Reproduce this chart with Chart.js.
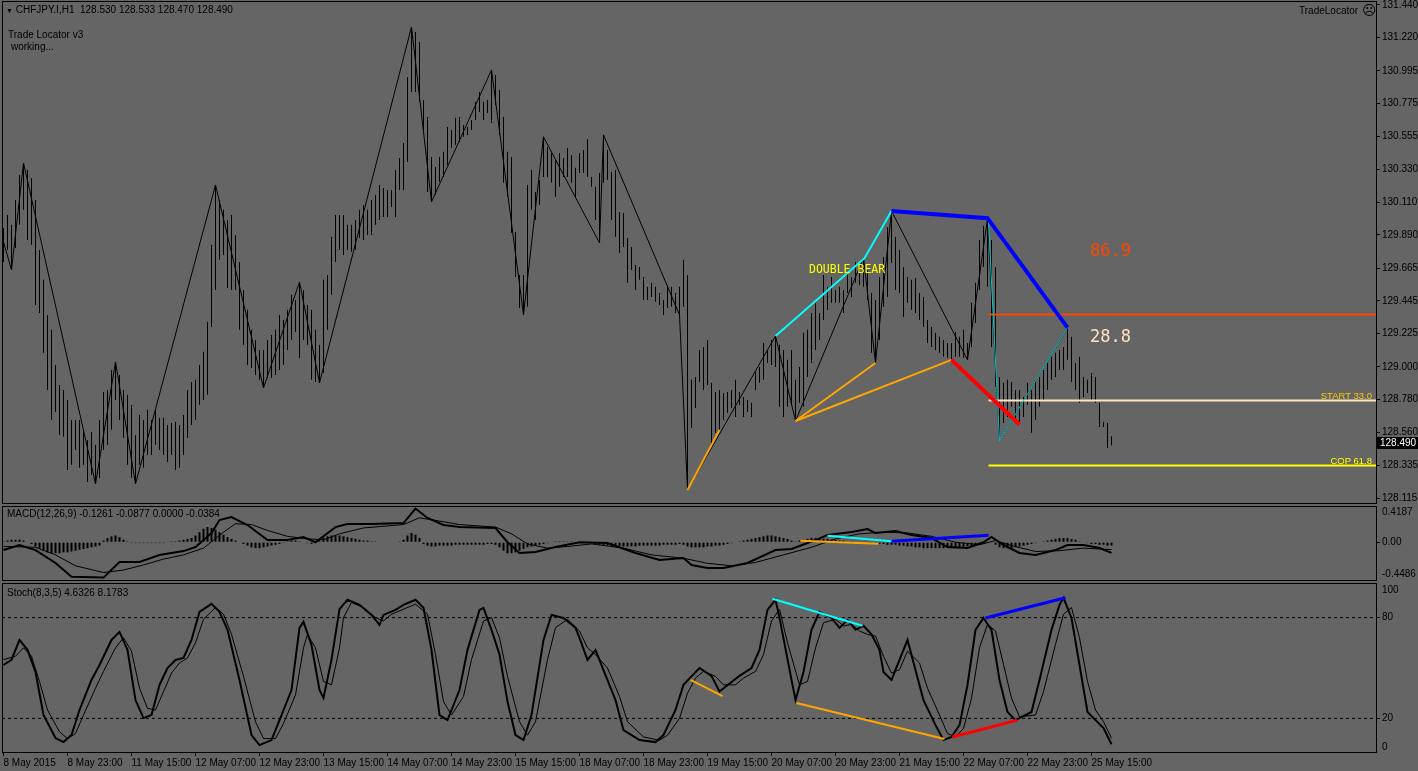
<!DOCTYPE html>
<html><head><meta charset="utf-8">
<script src="https://cdn.jsdelivr.net/npm/chart.js@4.4.1/dist/chart.umd.min.js"></script>
<style>
html,body{margin:0;padding:0;background:#656565;width:1418px;height:771px;overflow:hidden;position:relative;font-family:"Liberation Sans",Arial,sans-serif}
canvas{position:absolute;left:0;display:block}
.t{position:absolute;white-space:pre;color:#000;font-size:10px;line-height:12px}
.m{font-family:"DejaVu Sans Mono",monospace}
</style></head><body>
<canvas id="cp" width="1418" height="505" style="top:0"></canvas>
<canvas id="cm" width="1418" height="78" style="top:505px"></canvas>
<canvas id="cs" width="1418" height="188" style="top:583px"></canvas>

<div class="t" style="left:6px;top:4px"><span style="font-size:7px">▼</span> CHFJPY.I,H1  128.530 128.533 128.470 128.490</div>
<div class="t" style="left:8px;top:29px">Trade Locator v3</div>
<div class="t" style="left:11px;top:41px">working...</div>
<div class="t" style="left:1299px;top:5px">TradeLocator</div>
<div class="t" style="left:1362px;top:2px;font-size:14px;line-height:16px;font-family:'DejaVu Sans'">☹</div>
<div class="t m" style="left:809px;top:262px;font-size:11.5px;line-height:14px;color:#ffff00">DOUBLE BEAR</div>
<div class="t m" style="left:1090px;top:239px;font-size:17px;line-height:22px;color:#ff4500">86.9</div>
<div class="t m" style="left:1090px;top:325px;font-size:17px;line-height:22px;color:#ffe4c4">28.8</div>
<div class="t" style="right:46px;top:390px;font-size:9.5px;line-height:11px;color:#ffc800">START 33.0</div>
<div class="t" style="right:46px;top:455px;font-size:9.5px;line-height:11px;color:#ffff00">COP 61.8</div>
<div class="t" style="left:1377px;top:437px;width:38px;height:12px;background:#000;color:#fff;padding-left:3px">128.490</div>
<div class="t" style="left:7px;top:508px">MACD(12,26,9) -0.1261 -0.0877 0.0000 -0.0384</div>
<div class="t" style="left:7px;top:587px">Stoch(8,3,5) 4.6326 8.1783</div>

<script>
// ---------------- DATA ----------------
const PRICE_TICKS = [131.440,131.220,130.995,130.775,130.555,130.330,130.110,129.890,129.665,129.445,129.225,129.000,128.780,128.560,128.335,128.115];
const TIME_TICK_BARS = [0,16,32,48,64,80,96,112,128,144,160,176,192,208,224,240,256,272];
const TIME_LABELS = ["8 May 2015","8 May 23:00","11 May 15:00","12 May 07:00","12 May 23:00","13 May 15:00","14 May 07:00","14 May 23:00","15 May 15:00","18 May 07:00","18 May 23:00","19 May 15:00","20 May 07:00","20 May 23:00","21 May 15:00","22 May 07:00","22 May 23:00","25 May 15:00"];

const BAR_HIGH = [
129.937,130.025,129.958,130.126,130.294,130.375,130.328,130.274,130.126,129.789,
129.587,129.351,129.250,129.014,128.879,128.845,128.778,128.643,128.643,128.643,
128.576,128.508,128.562,128.475,128.643,128.832,128.845,128.980,129.034,128.946,
128.845,128.812,128.744,128.542,128.677,128.643,128.711,128.643,128.711,128.657,
128.657,128.609,128.623,128.630,128.609,128.677,128.845,128.899,128.913,129.014,
129.102,129.304,129.823,130.227,130.126,130.059,129.991,130.025,129.890,129.708,
129.519,129.385,129.250,129.182,129.115,129.115,129.182,129.216,129.250,129.351,
129.317,129.385,129.486,129.452,129.573,129.519,129.418,129.385,129.250,129.149,
129.587,129.620,129.877,130.025,130.025,130.025,129.958,129.958,129.991,130.059,
130.092,130.059,130.126,130.160,130.227,130.207,130.193,130.193,130.328,130.409,
130.510,130.955,131.292,131.258,131.191,130.800,130.685,130.416,130.348,130.416,
130.450,130.618,130.598,130.679,130.685,130.631,130.618,130.665,130.787,130.854,
130.787,130.800,131.002,130.968,130.867,130.685,130.450,130.416,129.910,129.620,
129.620,130.227,130.328,130.180,130.261,130.551,130.483,130.443,130.396,130.443,
130.409,130.476,130.429,130.342,130.443,130.463,130.537,130.281,130.214,130.308,
130.564,130.463,130.315,130.328,130.045,130.038,129.870,129.809,129.688,129.674,
129.607,129.540,129.567,129.540,129.499,129.452,129.553,129.540,129.499,129.540,
129.722,129.620,128.913,128.933,129.115,129.135,129.182,128.893,128.832,128.845,
128.825,128.832,128.845,128.913,128.832,128.798,128.778,128.758,128.967,129.000,
129.162,129.115,129.182,129.209,129.149,129.115,129.048,129.115,128.913,129.000,
129.230,129.250,129.364,129.432,129.364,129.620,129.540,129.607,129.519,129.540,
129.519,129.634,129.607,129.708,129.674,129.735,129.654,129.499,129.452,129.607,
129.742,129.944,130.052,129.877,129.789,129.674,129.607,129.587,129.600,129.499,
129.472,129.317,129.270,129.230,129.203,129.182,129.162,129.162,129.236,129.203,
129.250,129.162,129.432,129.567,129.856,129.951,129.998,129.856,129.674,128.933,
128.893,128.913,128.899,128.845,128.845,128.798,128.893,128.845,128.913,128.933,
128.980,129.027,129.068,129.095,129.115,129.135,129.263,129.203,129.027,129.068,
128.933,128.913,128.960,128.933,128.758,128.630,128.623,128.533];

const BAR_LOW = [
129.708,129.789,129.654,129.802,129.958,130.059,129.856,129.823,129.418,129.364,
129.095,128.845,128.643,128.697,128.542,128.529,128.306,128.340,128.441,128.320,
128.340,128.225,128.272,128.212,128.252,128.441,128.475,128.576,128.778,128.643,
128.522,128.340,128.252,128.212,128.340,128.320,128.407,128.407,128.475,128.441,
128.407,128.360,128.407,128.306,128.320,128.407,128.522,128.609,128.643,128.744,
128.778,128.812,129.270,129.519,129.722,129.755,129.533,129.519,129.519,129.250,
129.149,129.014,128.993,128.946,128.913,128.859,128.926,128.926,128.946,128.980,
129.014,129.115,129.182,129.236,129.061,129.182,129.149,128.913,128.899,128.893,
128.960,129.250,129.486,129.708,129.789,129.755,129.789,129.776,129.789,129.869,
129.856,129.890,129.890,129.958,129.991,130.011,130.011,130.079,130.011,130.193,
130.193,130.382,130.854,130.854,130.787,130.598,130.180,130.113,130.160,130.247,
130.281,130.362,130.476,130.497,130.517,130.551,130.564,130.598,130.665,130.719,
130.665,130.712,130.645,130.766,130.564,130.241,130.146,129.904,129.607,129.398,
129.351,129.405,130.059,129.991,130.092,130.281,130.281,130.241,130.146,130.214,
130.281,130.281,130.241,130.146,130.308,130.308,130.281,130.214,129.991,129.836,
130.241,130.261,129.991,129.877,129.769,129.809,129.567,129.654,129.519,129.587,
129.452,129.452,129.472,129.439,129.418,129.351,129.398,129.405,129.364,129.351,
129.405,128.171,128.589,128.724,128.899,128.845,128.879,128.475,128.556,128.576,
128.643,128.690,128.724,128.663,128.744,128.663,128.697,128.663,128.845,128.893,
128.913,129.027,129.014,129.000,128.731,128.663,128.731,128.744,128.636,128.758,
128.731,128.933,129.027,129.115,129.182,129.317,129.385,129.432,129.432,129.432,
129.364,129.499,129.472,129.567,129.553,129.540,129.452,129.095,129.027,129.182,
129.405,129.472,129.701,129.519,129.499,129.337,129.432,129.385,129.364,129.317,
129.270,129.162,129.135,129.115,129.095,129.068,129.061,129.048,129.068,129.068,
129.061,129.048,129.135,129.297,129.519,129.674,129.540,129.135,128.866,128.502,
128.623,128.663,128.731,128.643,128.623,128.663,128.744,128.556,128.643,128.731,
128.778,128.845,128.913,128.933,128.980,128.980,129.048,128.899,128.845,128.758,
128.798,128.825,128.778,128.758,128.596,128.596,128.454,128.470];

const ZIGZAG_BAR   = [0,2,5,23,28,33,53,65,74,79,102,107,122,130,135,149,150,169,171,193,198,215,218,222,241,246,249,266];
const ZIGZAG_PRICE = [129.843,129.654,130.375,128.212,129.034,128.212,130.227,128.859,129.573,128.893,131.292,130.113,131.002,129.351,130.551,129.836,130.564,129.351,128.171,129.209,128.636,129.735,129.027,130.052,129.048,129.998,128.502,129.263];

const CYAN_BAR = [193,215.25,222];          const CYAN_PRICE = [129.209,129.733,130.052];
const BLUE_BAR = [222,246,266];             const BLUE_PRICE = [130.052,130.003,129.265];
const ORANGE1_BAR = [198,218];              const ORANGE1_PRICE = [128.636,129.027];
const ORANGE2_BAR = [198,237];              const ORANGE2_PRICE = [128.636,129.048];
const ORANGE0_BAR = [171,179];              const ORANGE0_PRICE = [128.171,128.576];
const RED_BAR = [237,254];                  const RED_PRICE = [129.048,128.612];
const TEAL_BAR = [246.25,249,266];          const TEAL_PRICE = [129.976,128.502,129.265];
const LEVEL_START_BAR = 246.25;
const LEVEL_869 = 129.354, LEVEL_START = 128.774, LEVEL_COP = 128.335;

const MACD_HIST = [
0.01,0.02,0.03,0.03,0.03,0.02,0.0,-0.02,
-0.05,-0.08,-0.1,-0.12,-0.13,-0.13,-0.13,-0.12,-0.12,-0.11,-0.1,-0.09,-0.08,-0.07,-0.06,-0.05,-0.04,
0.02,0.05,0.07,0.08,0.06,0.03,0.01,
-0.01,-0.01,-0.01,-0.01,-0.01,-0.01,-0.01,-0.01,-0.01,0.0,0.01,0.01,0.02,0.03,0.04,0.05,
0.08,0.12,0.16,0.18,0.17,0.15,0.12,0.09,0.06,
0.04,0.02,0.0,-0.02,
-0.04,-0.06,-0.07,-0.07,-0.06,-0.05,-0.04,-0.03,-0.02,-0.01,
0.01,0.02,0.02,0.01,0.0,-0.01,-0.02,-0.01,
0.02,0.05,0.07,0.08,0.08,0.08,0.07,0.06,0.05,0.04,0.03,0.02,0.02,0.01,0.01,0.0,0.0,0.0,
0.0,0.0,0.01,0.03,0.08,0.11,0.09,0.05,
-0.02,-0.04,-0.05,-0.05,-0.04,-0.04,-0.04,-0.04,-0.03,-0.03,-0.03,-0.03,-0.03,-0.03,-0.03,-0.03,-0.02,-0.02,
-0.03,-0.06,-0.1,-0.13,-0.13,-0.12,-0.1,-0.08,-0.06,
-0.05,-0.04,-0.03,-0.02,-0.01,0.0,0.01,0.01,
0.01,0.01,0.01,0.0,0.0,0.0,0.0,-0.01,-0.02,
-0.03,-0.04,-0.04,-0.05,-0.05,-0.05,-0.05,-0.05,-0.05,-0.05,-0.04,-0.04,-0.04,-0.04,-0.04,-0.04,-0.03,-0.03,-0.03,-0.03,-0.02,
-0.03,-0.05,-0.06,-0.06,-0.06,-0.06,-0.05,-0.05,-0.04,-0.04,-0.03,-0.02,-0.01,
0.0,0.01,0.02,0.03,0.04,0.05,0.06,0.07,0.08,0.08,0.07,0.06,0.05,0.04,0.02,
0.01,0.02,0.03,0.04,0.05,0.05,0.05,0.04,0.04,0.03,0.03,0.02,0.02,0.01,0.01,
0.0,0.0,0.0,-0.01,-0.01,-0.02,-0.02,-0.02,-0.03,
-0.03,-0.03,-0.04,-0.04,-0.05,-0.05,-0.06,-0.06,-0.07,-0.07,-0.07,-0.07,-0.07,-0.07,-0.07,-0.07,-0.07,-0.06,-0.06,-0.05,-0.05,-0.04,-0.03,-0.02,-0.01,
0.0,-0.03,-0.06,-0.07,-0.07,-0.07,-0.06,-0.05,-0.04,-0.03,-0.02,-0.01,
0.0,0.01,0.02,0.03,0.04,0.05,0.05,0.05,0.04,0.03,
0.01,0.0,-0.01,-0.02,-0.02,-0.03,-0.03,-0.04,-0.0384];

const MACD_MAIN_BAR = [0,4,8,13,17,25,29,34,39,45,48,52,54,57,61,66,71,75,78,83,86,92,100,103,106,110,114,123,126,129,133,138,144,151,158,164,170,172,176,180,186,193,197,203,206,212,216,218,223,227,232,236,241,245,247,250,254,258,263,266,270,274,277];
const MACD_MAIN     = [-0.093,-0.033,-0.093,-0.247,-0.41,-0.42,-0.235,-0.235,-0.152,-0.105,-0.057,0.109,0.264,0.30,0.205,0.026,0.026,0.062,0.0,0.18,0.216,0.216,0.228,0.40,0.288,0.205,0.18,0.169,0.0,-0.128,-0.116,-0.057,0.0,-0.01,-0.128,-0.21,-0.188,-0.27,-0.306,-0.306,-0.247,-0.093,-0.081,0.026,0.086,0.121,0.157,0.109,0.133,0.086,0.05,-0.057,-0.069,0.0,0.062,-0.033,-0.128,-0.152,-0.093,-0.033,-0.033,-0.069,-0.1261];
const MACD_SIGNAL_BAR = [0,8,13,18,25,30,35,40,45,50,55,58,62,66,71,76,80,84,90,100,104,108,114,123,127,131,136,141,147,155,162,170,176,182,188,195,202,208,214,220,226,232,238,244,248,252,258,264,270,277];
const MACD_SIGNAL     = [-0.05,-0.06,-0.15,-0.28,-0.36,-0.33,-0.27,-0.2,-0.15,-0.07,0.12,0.22,0.21,0.14,0.07,0.04,0.03,0.1,0.17,0.21,0.29,0.26,0.21,0.18,0.1,-0.02,-0.07,-0.05,-0.02,-0.07,-0.15,-0.19,-0.25,-0.28,-0.24,-0.15,-0.06,0.04,0.1,0.12,0.11,0.07,0.0,-0.03,0.02,-0.04,-0.11,-0.1,-0.07,-0.0877];
const MACD_TICK_VALUES = [0.351,0,-0.386];
const MACD_TICK_LABELS = ["0.4187","0.00","-0.4486"];
const MACD_ORANGE_BAR = [199.25,218.75]; const MACD_ORANGE = [0.018,-0.018];
const MACD_CYAN_BAR = [206,222];         const MACD_CYAN = [0.078,0.011];
const MACD_BLUE_BAR = [222,246.25];      const MACD_BLUE = [0.011,0.082];

const STOCH_MAIN_BAR = [0,2,4,6,8,10,13,15,17,19,22,24,27,29,31,33,35,37,39,41,43,45,47,49,52,54,56,59,62,64,67,69,72,74,75,77,79,80,82,84,86,89,92,94,95,98,100,103,105,107,109,111,114,116,119,120,122,124,126,128,130,132,135,137,140,143,144,146,148,150,153,155,159,163,165,168,170,172,174,177,179,182,184,187,189,191,193,194,197,198,200,202,204,207,209,211,213,215,217,219,220,222,224,226,228,230,233,235,237,239,241,243,245,247,249,251,253,257,259,262,264,265,267,269,271,273,275,277];
const STOCH_MAIN     = [51.8,54.8,66.7,60.8,47.6,22.0,8.3,5.9,10.1,25.0,42.9,51.8,66.7,71.5,60.8,30.9,20.2,22.0,39.9,50.0,54.8,56.0,66.7,83.4,88.2,83.4,72.7,42.9,10.1,4.1,7.1,19.0,36.9,73.9,77.5,63.7,36.9,32.1,55.0,85.0,90.6,87.6,81.6,75.7,81.6,84.6,87.6,90.6,85.8,60.8,22.0,19.0,36.9,60.8,84.6,85.8,72.7,58.0,30.0,10.1,7.1,22.0,66.7,81.6,79.8,73.9,67.9,54.8,60.8,48.8,30.9,13.0,7.1,5.9,10.1,25.0,40.0,45.0,50.0,45.3,36.0,41.7,45.3,50.0,60.8,84.6,90.6,80.0,42.9,31.0,47.6,72.7,83.4,79.8,73.9,78.6,72.7,75.1,70.0,60.8,47.6,42.9,54.8,66.7,48.8,30.9,16.0,7.1,8.9,16.0,39.9,72.7,79.8,72.7,42.9,23.8,19.0,23.8,42.9,72.7,87.6,91.8,79.8,51.8,23.8,19.0,14.2,4.6326];
const STOCH_SIG_BAR = [0,3,5,7,9,11,14,16,18,20,23,25,28,30,32,34,36,38,40,42,44,46,48,50,53,55,57,60,63,65,68,70,73,75,76,78,80,82,84,85,87,90,93,95,97,100,103,106,108,110,112,115,117,120,122,124,126,129,131,133,136,138,141,144,146,148,151,154,156,160,164,166,169,171,173,175,178,180,183,185,188,190,192,194,196,199,201,203,205,208,210,212,214,216,218,220,222,224,226,229,231,234,236,238,240,242,244,246,248,250,252,254,258,260,263,265,267,269,271,273,275,277];
const STOCH_SIG     = [55,57,62,57,42,25,12,8,11,22,38,48,62,68,60,38,26,25,36,47,53,56,65,79,86,82,70,45,18,8,8,17,34,62,70,62,42,40,62,80,89,86,80,78,82,85,88,82,58,30,22,33,55,78,80,68,45,18,10,18,55,74,79,72,62,58,50,33,18,9,7,10,20,35,44,48,45,40,40,44,48,58,78,85,65,40,42,62,77,79,75,76,72,70,69,57,47,49,60,53,38,22,11,9,14,32,62,76,72,52,32,21,22,36,64,82,86,68,42,25,18,8.1783];
const STOCH_TICK_VALUES = [96.1,80,20,3.1];
const STOCH_TICK_LABELS = ["100","80","20","0"];
const STOCH_LEVELS = [80,20];
const ST_CYAN_BAR = [192.25,214.75];   const ST_CYAN = [91.2,75.1];
const ST_ORANGE1_BAR = [171.75,179.75];const ST_ORANGE1 = [42.9,33.3];
const ST_ORANGE2_BAR = [198.25,235.25];const ST_ORANGE2 = [29.2,7.7];
const ST_RED_BAR = [237.25,253.5];     const ST_RED = [8.9,19.0];
const ST_BLUE_BAR = [245.5,265.5];     const ST_BLUE = [79.8,91.8];

// ---------------- HELPERS ----------------
const X_MIN = -0.375, X_MAX = 343.125;
const FONT = {family:"Liberation Sans", size:10};
const pts = (xs, ys) => xs.map((x, i) => ({x, y: ys[i]}));
const hline = (y, x0) => [{x:x0, y}, {x:X_MAX, y}];
const lineDs = (data, color, width, order, extra) => Object.assign({
  type:'line', data, borderColor:color, borderWidth:width, pointRadius:0,
  tension:0, fill:false, order}, extra || {});
const frame = {id:'frame', afterDatasetsDraw(c){
  const a = c.chartArea, ctx = c.ctx;
  ctx.save(); ctx.strokeStyle = '#000'; ctx.lineWidth = 1;
  ctx.strokeRect(Math.round(a.left)+0.5, Math.round(a.top)-0.5, Math.round(a.right-a.left), Math.round(a.bottom-a.top)+1);
  ctx.restore();
}};
const noPad = s => { s.paddingTop = 0; s.paddingBottom = 0; s.paddingLeft = 0; s.paddingRight = 0; };
const xHidden = {type:'linear', min:X_MIN, max:X_MAX, offset:false, display:false};
const base = {responsive:false, animation:false, devicePixelRatio:1, events:[],
  plugins:{legend:{display:false}, tooltip:{enabled:false}}};
const yRight = (min, max, tickVals, labelFn, gridColor) => ({
  position:'right', min, max,
  afterFit(s){ s.width = 42; noPad(s); },
  afterBuildTicks(s){ s.ticks = tickVals.map(v => ({value:v})); },
  ticks:{autoSkip:false, color:'#000', font:FONT, padding:2, callback:labelFn},
  grid:{drawOnChartArea:false, tickLength:4, color:gridColor || '#000'},
  border:{display:true, color:'#000', width:1}
});

// ---------------- PRICE ----------------
new Chart(document.getElementById('cp'), {
  type:'bar',
  data:{datasets:[
    {type:'bar', data: BAR_HIGH.map((h, i) => ({x:i, y:[BAR_LOW[i], h]})),
     backgroundColor:'#000', borderWidth:0, barThickness:1, inflateAmount:0, order:20},
    lineDs(pts(ZIGZAG_BAR, ZIGZAG_PRICE), '#000', 1, 15),
    lineDs(hline(LEVEL_869, LEVEL_START_BAR), '#ff4500', 2, 9),
    lineDs(hline(LEVEL_START, LEVEL_START_BAR), '#ffe4c4', 2, 9),
    lineDs(hline(LEVEL_COP, LEVEL_START_BAR), '#ffff00', 2, 9),
    lineDs(pts(ORANGE0_BAR, ORANGE0_PRICE), '#ffa500', 2, 8),
    lineDs(pts(ORANGE1_BAR, ORANGE1_PRICE), '#ffa500', 2, 8),
    lineDs(pts(ORANGE2_BAR, ORANGE2_PRICE), '#ffa500', 2, 8),
    lineDs(pts(TEAL_BAR, TEAL_PRICE), '#00c8d0', 1, 7),
    lineDs(pts(CYAN_BAR, CYAN_PRICE), '#00ffff', 2, 6),
    lineDs(pts(BLUE_BAR, BLUE_PRICE), '#0000ff', 4, 5),
    lineDs(pts(RED_BAR, RED_PRICE), '#ff0000', 4, 4)
  ]},
  options:Object.assign({}, base, {
    layout:{padding:{left:2, top:2, bottom:2, right:0}},
    scales:{x:xHidden, y:yRight(128.083, 131.460, PRICE_TICKS, v => Number(v).toFixed(3))}
  }),
  plugins:[frame]
});

// ---------------- MACD ----------------
new Chart(document.getElementById('cm'), {
  type:'bar',
  data:{datasets:[
    {type:'bar', data: MACD_HIST.map((v, i) => ({x:i, y:v})),
     backgroundColor:'#000', borderWidth:0, barThickness:2, inflateAmount:0, order:20},
    lineDs(pts(MACD_SIGNAL_BAR, MACD_SIGNAL), '#000', 1, 15),
    lineDs(pts(MACD_MAIN_BAR, MACD_MAIN), '#000', 2, 14),
    lineDs(pts(MACD_ORANGE_BAR, MACD_ORANGE), '#ffa500', 2, 8),
    lineDs(pts(MACD_CYAN_BAR, MACD_CYAN), '#00ffff', 2, 7),
    lineDs(pts(MACD_BLUE_BAR, MACD_BLUE), '#0000ff', 3, 6)
  ]},
  options:Object.assign({}, base, {
    layout:{padding:{left:2, top:2, bottom:3, right:0}},
    scales:{x:xHidden, y:yRight(-0.4486, 0.4187, MACD_TICK_VALUES, (v, i) => MACD_TICK_LABELS[i],
      c => (c.tick && c.tick.value === 0) ? '#000' : 'rgba(0,0,0,0)')}
  }),
  plugins:[frame]
});

// ---------------- STOCH ----------------
new Chart(document.getElementById('cs'), {
  type:'line',
  data:{datasets:[
    lineDs(hline(STOCH_LEVELS[0], X_MIN), '#000', 1, 20, {borderDash:[3,3]}),
    lineDs(hline(STOCH_LEVELS[1], X_MIN), '#000', 1, 20, {borderDash:[3,3]}),
    lineDs(pts(STOCH_SIG_BAR, STOCH_SIG), '#000', 1, 15),
    lineDs(pts(STOCH_MAIN_BAR, STOCH_MAIN), '#000', 2, 14),
    lineDs(pts(ST_CYAN_BAR, ST_CYAN), '#00ffff', 2, 8),
    lineDs(pts(ST_ORANGE1_BAR, ST_ORANGE1), '#ffa500', 2, 8),
    lineDs(pts(ST_ORANGE2_BAR, ST_ORANGE2), '#ffa500', 2, 8),
    lineDs(pts(ST_RED_BAR, ST_RED), '#ff0000', 3, 7),
    lineDs(pts(ST_BLUE_BAR, ST_BLUE), '#0000ff', 3, 7)
  ]},
  options:Object.assign({}, base, {
    layout:{padding:{left:2, top:1, bottom:0, right:0}},
    scales:{
      x:{type:'linear', min:X_MIN, max:X_MAX, offset:false,
         afterFit(s){ s.height = 19; noPad(s); },
         afterBuildTicks(s){ s.ticks = TIME_TICK_BARS.map(v => ({value:v})); },
         ticks:{autoSkip:false, maxRotation:0, minRotation:0, align:'start', padding:1, color:'#000', font:FONT,
                callback:(v, i) => TIME_LABELS[i]},
         grid:{drawOnChartArea:false, tickLength:4, color:'#000'},
         border:{display:true, color:'#000', width:1}},
      y:yRight(0, 100, STOCH_TICK_VALUES, (v, i) => STOCH_TICK_LABELS[i],
        c => (c.tick && (c.tick.value === 80 || c.tick.value === 20)) ? '#000' : 'rgba(0,0,0,0)')
    }
  }),
  plugins:[frame]
});
</script>
</body></html>
